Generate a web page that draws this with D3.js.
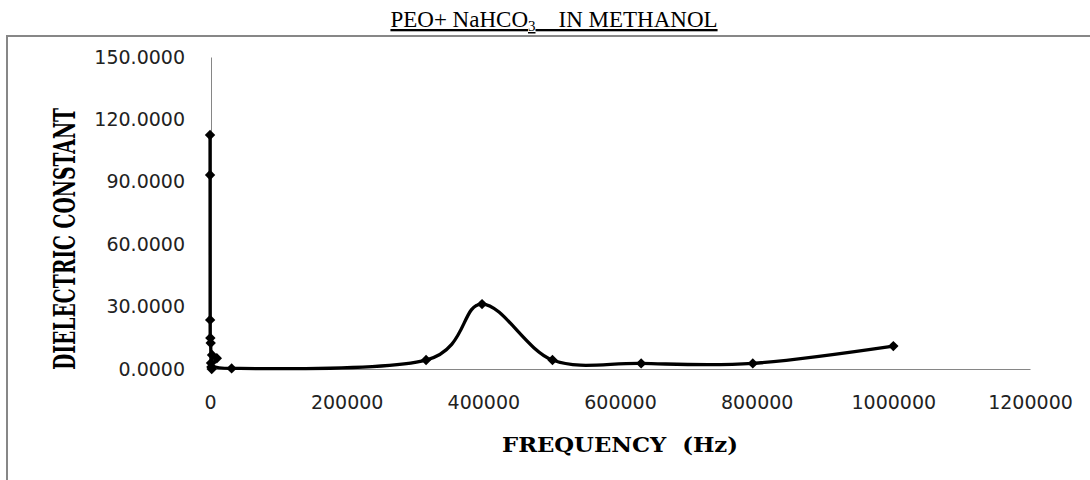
<!DOCTYPE html>
<html><head><meta charset="utf-8">
<script src="https://cdn.jsdelivr.net/npm/d3@7"></script>
<style>body{margin:0;background:#fff}svg{display:block}</style>
</head><body>
<svg id="c" width="1090" height="480"></svg>
<script>
const frequencies = [50,100,200,500,1000,1500,2000,2500,3000,10000,31623,316228,398107,501187,630957,794328,1000000];
const dielectric = [112.5,93.3,23.6,14.9,12.5,2.9,1.0,0.0,6.7,5.2,0.3,4.3,31.2,4.3,2.7,2.7,11.0];
const xTicks = [0,200000,400000,600000,800000,1000000,1200000];
const yTicks = [0,30,60,90,120,150];

const svg = d3.select("#c");
const x = d3.scaleLinear().domain([0,1200000]).range([210,1030]);
const y = d3.scaleLinear().domain([0,150]).range([369,57]);

// frame
svg.append("rect").attr("x",7).attr("y",36).attr("width",1200).attr("height",600)
  .attr("fill","none").attr("stroke","#878787").attr("stroke-width",2);

// title
const t = svg.append("text").attr("x",554).attr("y",27).attr("text-anchor","middle")
  .attr("font-family","Liberation Serif").attr("font-size",23).attr("text-decoration","underline")
  .attr("fill","#000");
t.append("tspan").text("PEO+ NaHCO");
t.append("tspan").attr("font-size",15).attr("dy",4).text("3");
t.append("tspan").attr("dy",-4).text("\u00a0\u00a0\u00a0 IN METHANOL");

// axes
const yAxis = d3.axisLeft(y).tickValues(yTicks).tickFormat(d3.format(".4f")).tickSize(0).tickPadding(26);
const gy = svg.append("g").attr("transform",`translate(${x(0)+1},0)`).call(yAxis);
gy.select(".domain").attr("stroke","#868686");
gy.selectAll("text").attr("font-family","DejaVu Sans").attr("font-size",19).attr("fill","#222");

const xAxis = d3.axisBottom(x).tickValues(xTicks).tickFormat(d3.format("d")).tickSize(0);
const gx = svg.append("g").attr("transform",`translate(0,${y(0)})`).call(xAxis);
gx.select(".domain").attr("stroke","#868686");
gx.selectAll("text").attr("y",33).attr("dy","0.36em")
  .attr("font-family","DejaVu Sans").attr("font-size",19).attr("fill","#222");

// axis titles
svg.append("text").attr("transform",`translate(75,239) rotate(-90)`)
  .attr("text-anchor","middle").attr("font-family","DejaVu Serif Condensed").attr("font-weight","bold")
  .attr("font-size",29).attr("textLength",262).attr("lengthAdjust","spacingAndGlyphs")
  .attr("fill","#000").text("DIELECTRIC CONSTANT");
svg.append("text").attr("x",620).attr("y",452).attr("text-anchor","middle")
  .attr("font-family","DejaVu Serif").attr("font-weight","bold").attr("font-size",20.5)
  .attr("textLength",236).attr("lengthAdjust","spacingAndGlyphs")
  .attr("fill","#000").text("FREQUENCY\u00a0\u00a0(Hz)");

// line
const data = frequencies.map((f,i)=>({f, v: dielectric[i]}));
const line = d3.line().x(d=>x(d.f)).y(d=>y(d.v)).curve(d3.curveCatmullRom.alpha(0));
svg.append("path").datum(data).attr("d",line).attr("fill","none").attr("stroke","#000").attr("stroke-width",3.3);

// markers
const sym = d3.symbol().type(d3.symbolSquare).size(54);
svg.selectAll(".m").data(data).join("path").attr("class","m")
  .attr("transform",d=>`translate(${x(d.f)},${y(d.v)}) rotate(45)`).attr("d",sym).attr("fill","#000");
</script>
</body></html>
